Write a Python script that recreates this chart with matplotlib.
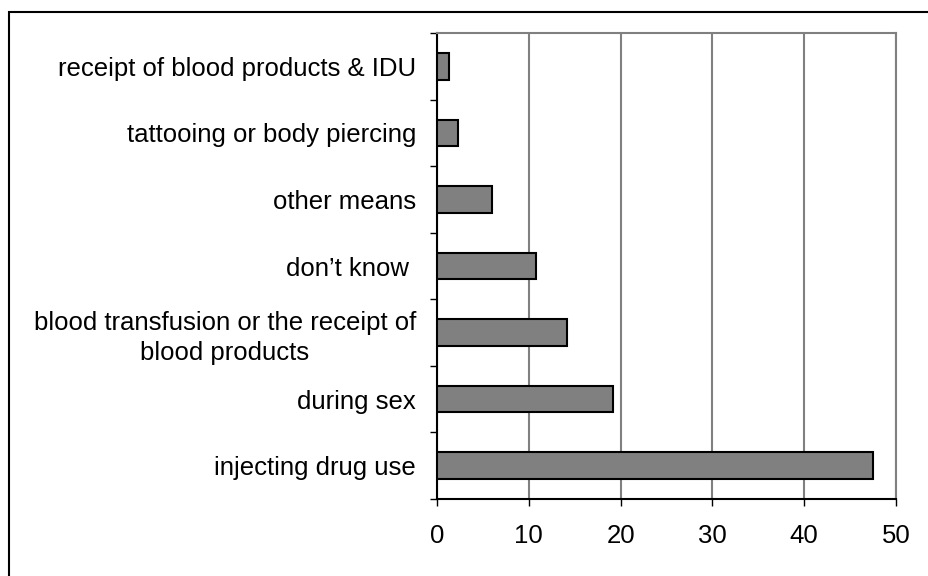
import matplotlib
matplotlib.use("Agg")
import matplotlib.pyplot as plt
from matplotlib.patches import Rectangle

plt.rcParams['font.family'] = ['Liberation Sans', 'DejaVu Sans']

categories = ["injecting drug use", "during sex",
              "blood transfusion or the receipt of\nblood products",
              "don\u2019t know ", "other means", "tattooing or body piercing",
              "receipt of blood products & IDU"]
values = [47.5, 19.2, 14.2, 10.8, 6.0, 2.3, 1.3]
xticks = [0, 10, 20, 30, 40, 50]

fig = plt.figure(figsize=(9.29, 5.76), dpi=100)
ax = fig.add_axes([437/929, 1 - 499/576, (896-437)/929, (499-33)/576])

pos = list(range(len(categories)))
ax.barh(pos, values, height=0.4, color="#808080", edgecolor="black",
        linewidth=1.5, zorder=3)

ax.set_xlim(0, 50)
ax.set_ylim(-0.5, len(categories) - 0.5)
ax.set_xticks(xticks)
ax.set_xticklabels([str(t) for t in xticks], fontsize=18.5)
ax.set_yticks(pos)
ax.set_yticklabels(categories, fontsize=18.5, ha="right",
                   multialignment="center", linespacing=1.3)
ax.set_yticks([p - 0.5 for p in range(len(categories) + 1)], minor=True)

ax.tick_params(axis="y", which="major", length=0, pad=15)
ax.tick_params(axis="y", which="minor", length=5, width=1, direction="out", color="black")
ax.tick_params(axis="x", length=5, width=1, direction="out", pad=13, color="black")

ax.grid(axis="x", color="#808080", linewidth=1.5, zorder=0)
ax.spines["left"].set_color("black")
ax.spines["left"].set_linewidth(1.5)
ax.spines["bottom"].set_color("black")
ax.spines["bottom"].set_linewidth(1.5)
ax.spines["top"].set_color("#808080")
ax.spines["top"].set_linewidth(1.5)
ax.spines["right"].set_color("#808080")
ax.spines["right"].set_linewidth(1.5)

# outer frame around the picture
fig.patches.append(Rectangle((9/929, -0.05), 1.1, 1 - 12/576 + 0.05,
                             transform=fig.transFigure, fill=False,
                             edgecolor="black", linewidth=1.5))

fig.savefig("out.png", dpi=100)
